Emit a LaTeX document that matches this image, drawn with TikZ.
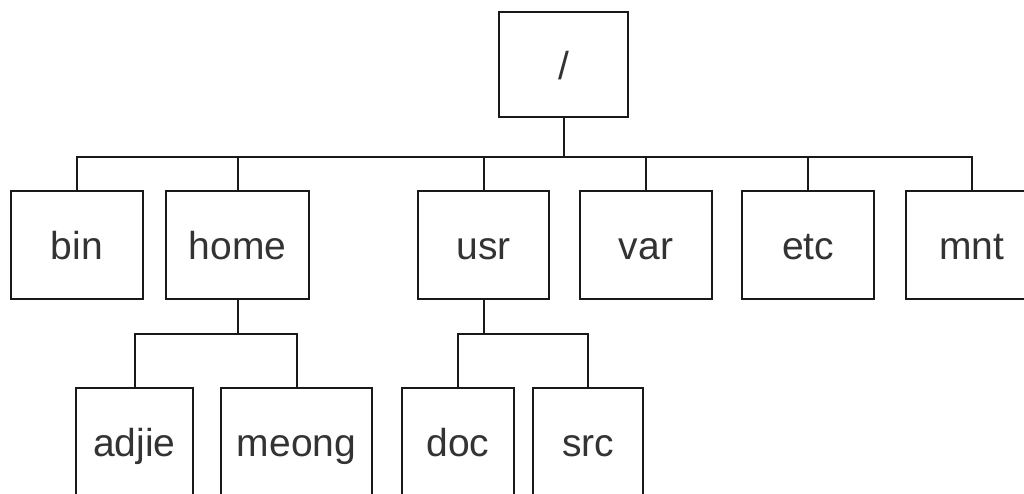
\documentclass[tikz,border=0pt]{standalone}
\usepackage{fontspec}
\setmainfont{Liberation Sans}
\begin{document}
\begin{tikzpicture}[x=1pt,y=-1pt,
  dir/.style={draw=black!90,line width=2pt,fill=white,inner sep=0pt,
    minimum height=108pt,text height=29pt,text depth=0pt,
    font=\fontsize{39}{39}\selectfont,text=black!80},
  link/.style={draw=black!90,line width=2pt}]
\clip (0,0) rectangle (1024,493);
\fill[white] (0,0) rectangle (1024,493);
% root directory
\node[dir,minimum width=129pt,minimum height=105pt] (root) at (563.5,64.5) {/};
% first level
\node[dir,minimum width=132pt] (bin)  at (77,245)    {bin};
\node[dir,minimum width=143pt] (home) at (237.5,245) {home};
\node[dir,minimum width=131pt] (usr)  at (483.5,245) {usr};
\node[dir,minimum width=132pt] (var)  at (646,245)   {var};
\node[dir,minimum width=132pt] (etc)  at (808,245)   {etc};
\node[dir,minimum width=132pt] (mnt)  at (972,245)   {mnt};
% second level
\node[dir,minimum width=117pt] (adjie) at (134.5,442) {adjie};
\node[dir,minimum width=151pt] (meong) at (296.5,442) {meong};
\node[dir,minimum width=112pt] (doc)   at (458,442)   {doc};
\node[dir,minimum width=110pt] (src)   at (588,442)   {src};
% connectors
\foreach \c in {bin,home,usr,var,etc,mnt}
  \draw[link] (root.south) -- ++(0,39) -| (\c.north);
\foreach \c in {adjie,meong}
  \draw[link] (home.south) -- ++(0,34) -| (\c.north);
\foreach \c in {doc,src}
  \draw[link] (usr.south) -- ++(0,34) -| (\c.north);
\end{tikzpicture}
\end{document}
